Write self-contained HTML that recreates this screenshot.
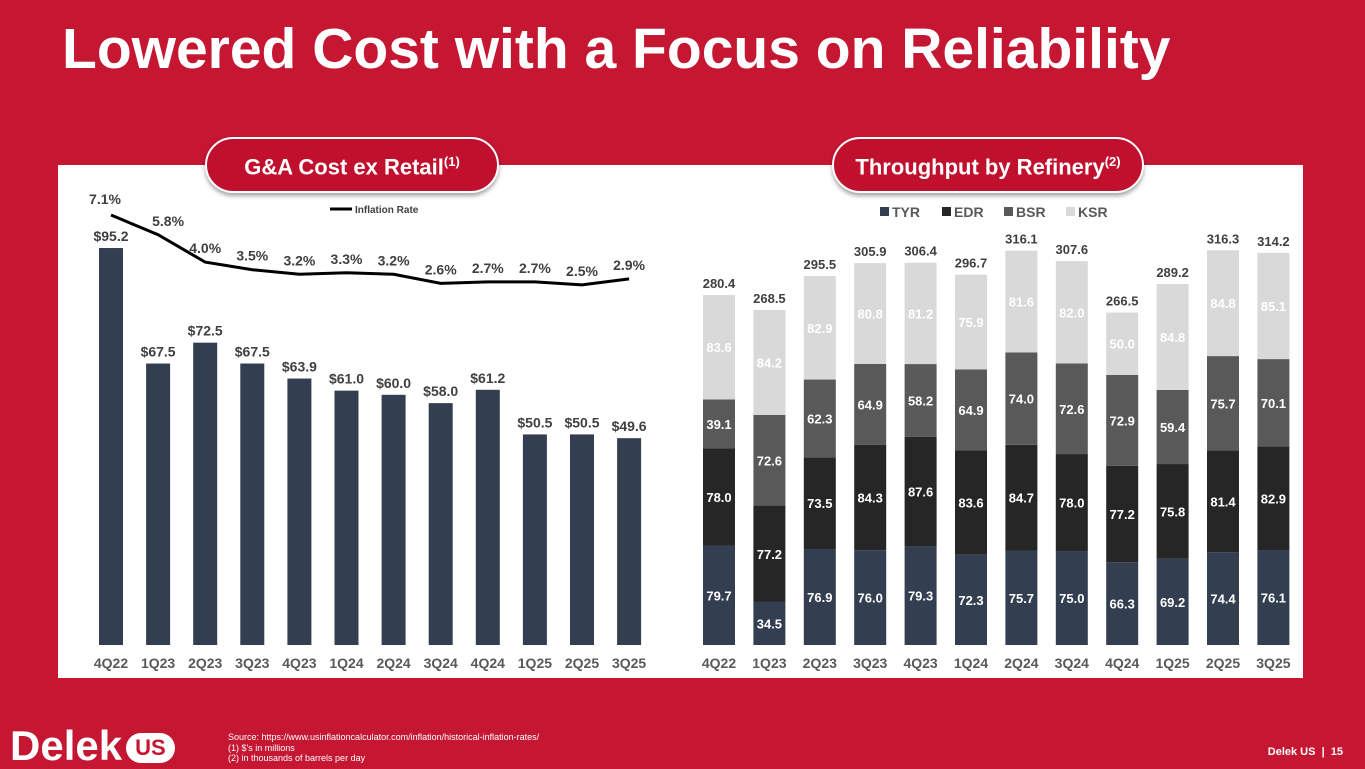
<!DOCTYPE html>
<html><head><meta charset="utf-8"><style>
body{margin:0;width:1365px;height:768px;background:#C51632;overflow:hidden;font-family:"Liberation Sans",Arial,sans-serif;position:relative}
.title{position:absolute;left:62px;top:16px;font-size:57px;font-weight:bold;color:#fff}
.panel{position:absolute;left:58px;top:165px;width:1245px;height:513px;background:#fff}
.pill{position:absolute;top:137px;height:52px;border:2px solid #fff;border-radius:28px;background:#C0102E;color:#fff;font-weight:bold;font-size:22px;text-align:center;line-height:46px;box-shadow:0 3px 4px rgba(0,0,0,.35)}
sup{font-size:13px}
svg{position:absolute;left:0;top:0}
.foot{position:absolute;left:228px;top:732px;color:#fff;font-size:9px;line-height:10.5px}
</style></head><body>
<div class="title">Lowered Cost with a Focus on Reliability</div>
<div class="panel"></div>
<div class="pill" style="left:205px;width:290px">G&amp;A Cost ex Retail<sup>(1)</sup></div>
<div class="pill" style="left:832px;width:308px">Throughput by Refinery<sup>(2)</sup></div>
<svg id="c" width="1365" height="768"></svg>
<div style="position:absolute;left:10px;top:726px;color:#fff;font-weight:900;font-size:42px;letter-spacing:0px;line-height:40px">Delek<span style="display:inline-block;font-size:22px;border-radius:16px;background:#fff;color:#C51632;padding:2px 9px;margin-left:4px;vertical-align:5px;line-height:26px">US</span></div>
<div class="foot">Source: https://www.usinflationcalculator.com/inflation/historical-inflation-rates/<br>(1) $'s in millions<br>(2) in thousands of barrels per day</div>
<div style="position:absolute;right:22px;top:746px;color:#fff;font-size:11px;font-weight:bold">Delek US &nbsp;|&nbsp; 15</div>
<script>
const quarters=["4Q22","1Q23","2Q23","3Q23","4Q23","1Q24","2Q24","3Q24","4Q24","1Q25","2Q25","3Q25"];
const gaCost=[95.2,67.5,72.5,67.5,63.9,61.0,60.0,58.0,61.2,50.5,50.5,49.6];
const inflation=[7.1,5.8,4.0,3.5,3.2,3.3,3.2,2.6,2.7,2.7,2.5,2.9];
const tyr=[79.7,34.5,76.9,76.0,79.3,72.3,75.7,75.0,66.3,69.2,74.4,76.1];
const edr=[78.0,77.2,73.5,84.3,87.6,83.6,84.7,78.0,77.2,75.8,81.4,82.9];
const bsr=[39.1,72.6,62.3,64.9,58.2,64.9,74.0,72.6,72.9,59.4,75.7,70.1];
const ksr=[83.6,84.2,82.9,80.8,81.2,75.9,81.6,82.0,50.0,84.8,84.8,85.1];
const totals=[280.4,268.5,295.5,305.9,306.4,296.7,316.1,307.6,266.5,289.2,316.3,314.2];
const svg=document.getElementById('c');const NS="http://www.w3.org/2000/svg";
function el(t,a,txt){const e=document.createElementNS(NS,t);for(const k in a)e.setAttribute(k,a[k]);if(txt!==undefined)e.textContent=txt;svg.appendChild(e);return e;}
const base=645;
const lx=i=>111+i*47.1, ly=v=>base-v*4.17, iy=v=>215+(7.1-v)*15.2;
const rx=i=>719+i*50.4, ry=v=>v*1.248;
quarters.forEach((q,i)=>{
 let b=el('rect',{x:lx(i)-12,y:ly(gaCost[i]),width:24,height:base-ly(gaCost[i]),fill:'#333F50'});
 
 
 let t=el('text',{x:lx(i),y:ly(gaCost[i])-7,'text-anchor':'middle','font-size':14,'font-weight':'bold',fill:'#404040'},'$'+gaCost[i].toFixed(1));
 
 
 let xl=el('text',{x:lx(i),y:668,'text-anchor':'middle','font-size':14,'font-weight':'bold',fill:'#595959'},q);
 
 
 let il=el('text',{x:lx(i)+(i==0?-6:i==1?10:0),y:iy(inflation[i])-(i==0?11:9),'text-anchor':'middle','font-size':14,'font-weight':'bold',fill:'#404040'},inflation[i].toFixed(1)+'%');
 
 
});
let ln=el('polyline',{points:inflation.map((v,i)=>lx(i)+','+iy(v)).join(' '),fill:'none',stroke:'#000','stroke-width':3});


el('line',{x1:330,y1:209,x2:352,y2:209,stroke:'#000','stroke-width':3});
let lg=el('text',{x:355,y:213,'font-size':10,'font-weight':'bold',fill:'#404040'},'Inflation Rate');


const series=[[tyr,'#333F50','TYR','#fff'],[edr,'#262626','EDR','#fff'],[bsr,'#595959','BSR','#fff'],[ksr,'#D9D9D9','KSR','#fff']];
quarters.forEach((q,i)=>{
 let y=base;
 series.forEach(s=>{const v=s[0][i],h=ry(v);y-=h;
  let r=el('rect',{x:rx(i)-16,y:y,width:32,height:h,fill:s[1]});
  
  
  let t=el('text',{x:rx(i),y:y+h/2+5,'text-anchor':'middle','font-size':13,'font-weight':'bold',fill:s[3]},v.toFixed(1));
  
  
 });
 let tt=el('text',{x:rx(i),y:y-7,'text-anchor':'middle','font-size':13,'font-weight':'bold',fill:'#404040'},totals[i].toFixed(1));
 
 
 let xl=el('text',{x:rx(i),y:668,'text-anchor':'middle','font-size':14,'font-weight':'bold',fill:'#595959'},q);
 
 
});
series.forEach((s,k)=>{const x=880+k*62;
 el('rect',{x:x,y:207,width:9,height:9,fill:s[1]});
 let t=el('text',{x:x+12,y:217,'font-size':14,'font-weight':'bold',fill:'#595959'},s[2]);
 
 
});
</script>
</body></html>
